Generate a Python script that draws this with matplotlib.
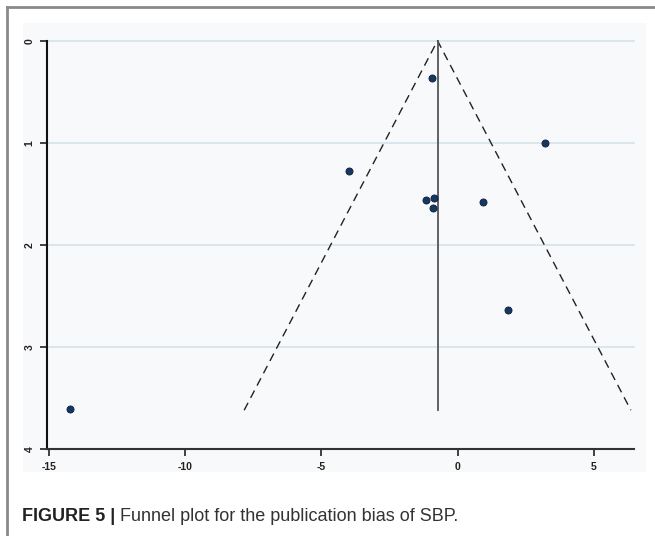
import numpy as np
import matplotlib
matplotlib.use("Agg")
import matplotlib.pyplot as plt
from matplotlib.patches import Rectangle
from matplotlib.lines import Line2D

# effect sizes (x) and standard errors (y)
effect = [-14.23, -0.96, 3.21, -3.98, -1.18, -0.88, -0.92, 0.92, 1.84]
se = [3.61, 0.37, 1.00, 1.28, 1.56, 1.54, 1.64, 1.58, 2.64]
pooled = -0.74
se_max = 3.62
xticks = [-15, -10, -5, 0, 5]
yticks = [0, 1, 2, 3, 4]
caption_bold = "FIGURE 5 |"
caption_rest = " Funnel plot for the publication bias of SBP."

plt.rcParams['font.family'] = ['Liberation Sans', 'DejaVu Sans']

fig = plt.figure(figsize=(6.55, 5.36), dpi=100)
W, H = 655, 536

# outer frame (left and top only) and grey panel behind the plot
fig.add_artist(Line2D([7 / W, 7 / W], [0, 1 - 7 / H], color='#8a8a8a', lw=2))
fig.add_artist(Line2D([7 / W, 1], [1 - 7 / H, 1 - 7 / H], color='#8a8a8a', lw=2))
fig.add_artist(Rectangle((23 / W, 1 - 472 / H), (646 - 23) / W, (472 - 23) / H,
                         facecolor='#f8f9fa', edgecolor='none', zorder=0))

ax = fig.add_axes([47 / W, 1 - 449 / H, (634 - 47) / W, (449 - 40.7) / H])
ax.set_facecolor('none')

# funnel
x_left = pooled - 1.96 * se_max
x_right = pooled + 1.96 * se_max
ax.plot([x_left, pooled, x_right], [se_max, 0, se_max], color='#222222',
        lw=1.0, dashes=(6, 4), clip_on=False, zorder=3)
ax.plot([pooled, pooled], [0, se_max], color='#555555', lw=1.3,
        clip_on=False, zorder=3)

ax.scatter(effect, se, s=26, color='#17375e', edgecolor='#0b1f3a',
           linewidths=0.6, zorder=4, clip_on=False)

ax.set_xlim(-15.07, 6.47)
ax.set_ylim(4, 0)

for yv in yticks[:-1]:
    ax.axhline(yv, color='#d5e3ea', lw=1.2, zorder=1, clip_on=False)

ax.set_xticks(xticks)
ax.set_yticks(yticks)
ax.set_xticklabels([str(v) for v in xticks])
ax.set_yticklabels([str(v) for v in yticks], rotation=90, va='center')
ax.tick_params(axis='both', length=5, width=1.2, color='#222222',
               labelsize=7.5, labelcolor='#222222', pad=4)
for lab in ax.get_xticklabels() + ax.get_yticklabels():
    lab.set_fontweight('bold')

for side in ['top', 'right']:
    ax.spines[side].set_visible(False)
ax.spines['left'].set_linewidth(1.5)
ax.spines['bottom'].set_linewidth(1.5)
ax.spines['left'].set_color('#111111')
ax.spines['bottom'].set_color('#333333')

# caption
t1 = fig.text(22 / W, 1 - 521 / H, caption_bold, fontsize=13, fontweight='bold',
              color='#222222', va='baseline', ha='left')
fig.canvas.draw()
bb = t1.get_window_extent()
fig.text(bb.x1 / W, 1 - 521 / H, caption_rest, fontsize=13, color='#333333',
         va='baseline', ha='left')

fig.savefig('out.png', dpi=100)
